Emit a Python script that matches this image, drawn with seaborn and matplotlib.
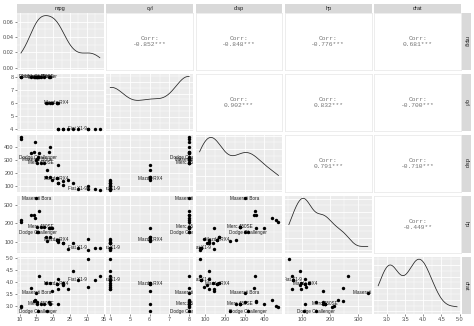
import numpy as np
import pandas as pd
import matplotlib
matplotlib.use("Agg")
import matplotlib.pyplot as plt
from matplotlib.ticker import FixedLocator, MaxNLocator
import seaborn as sns

# ---------------- data (mtcars) ----------------
cars = ["Mazda RX4", "Mazda RX4 Wag", "Datsun 710", "Hornet 4 Drive", "Hornet Sportabout",
        "Valiant", "Duster 360", "Merc 240D", "Merc 230", "Merc 280", "Merc 280C",
        "Merc 450SE", "Merc 450SL", "Merc 450SLC", "Cadillac Fleetwood",
        "Lincoln Continental", "Chrysler Imperial", "Fiat 128", "Honda Civic",
        "Toyota Corolla", "Toyota Corona", "Dodge Challenger", "AMC Javelin",
        "Camaro Z28", "Pontiac Firebird", "Fiat X1-9", "Porsche 914-2", "Lotus Europa",
        "Ford Pantera L", "Ferrari Dino", "Maserati Bora", "Volvo 142E"]
mpg = [21.0, 21.0, 22.8, 21.4, 18.7, 18.1, 14.3, 24.4, 22.8, 19.2, 17.8, 16.4, 17.3, 15.2,
       10.4, 10.4, 14.7, 32.4, 30.4, 33.9, 21.5, 15.5, 15.2, 13.3, 19.2, 27.3, 26.0, 30.4,
       15.8, 19.7, 15.0, 21.4]
cyl = [6, 6, 4, 6, 8, 6, 8, 4, 4, 6, 6, 8, 8, 8, 8, 8, 8, 4, 4, 4, 4, 8, 8, 8, 8, 4, 4, 4,
       8, 6, 8, 4]
disp = [160, 160, 108, 258, 360, 225, 360, 146.7, 140.8, 167.6, 167.6, 275.8, 275.8, 275.8,
        472, 460, 440, 78.7, 75.7, 71.1, 120.1, 318, 304, 350, 400, 79, 120.3, 95.1, 351,
        145, 301, 121]
hp = [110, 110, 93, 110, 175, 105, 245, 62, 95, 123, 123, 180, 180, 180, 205, 215, 230, 66,
      52, 65, 97, 150, 150, 245, 175, 66, 91, 113, 264, 175, 335, 109]
drat = [3.90, 3.90, 3.85, 3.08, 3.15, 2.76, 3.21, 3.69, 3.92, 3.92, 3.92, 3.07, 3.07, 3.07,
        2.93, 3.00, 3.23, 4.08, 4.93, 4.22, 3.70, 2.76, 3.15, 3.73, 3.08, 4.08, 4.43, 3.77,
        4.22, 3.62, 3.54, 4.11]
labelled = ["Mazda RX4", "Fiat X1-9", "Dodge Challenger", "Maserati Bora", "Merc 450SE"]

variables = ["mpg", "cyl", "disp", "hp", "drat"]
ticks = {
    "mpg": [10, 15, 20, 25, 30, 35],
    "cyl": [4, 5, 6, 7, 8],
    "disp": [100, 200, 300, 400],
    "hp": [100, 200, 300],
    "drat": [3.0, 3.5, 4.0, 4.5, 5.0],
}
tick_fmt = {"mpg": "{:g}", "cyl": "{:g}", "disp": "{:g}", "hp": "{:g}", "drat": "{:.1f}"}

df = pd.DataFrame({"car": cars, "mpg": mpg, "cyl": cyl, "disp": disp, "hp": hp, "drat": drat})
n = len(df)

# ---------------- layout ----------------
W, H = 474, 326
fig = plt.figure(figsize=(W / 100, H / 100), dpi=100)
fig.patch.set_facecolor("white")

left, right, top, bottom = 17, 461, 13, 314
gapx, gapy = 2.5, 3.5
k = len(variables)
pw = (right - left - gapx * (k - 1)) / k
ph = (bottom - top - gapy * (k - 1)) / k


def rect(x0, y0, x1, y1):
    return [x0 / W, 1 - y1 / H, (x1 - x0) / W, (y1 - y0) / H]


FONT = "Liberation Sans"
TICKC = "#4D4D4D"
BG = "#EBEBEB"


def limits(v):
    lo, hi = min(df[v]), max(df[v])
    e = (hi - lo) * 0.05
    return lo - e, hi + e


def minor_of(major, lo, hi):
    step = major[1] - major[0]
    cand = [major[0] - step / 2] + [m + step / 2 for m in major]
    return [c for c in cand if lo <= c <= hi]


def style_grid(ax, xt, yt, xlim, ylim):
    ax.set_facecolor(BG)
    ax.xaxis.set_major_locator(FixedLocator(xt))
    ax.yaxis.set_major_locator(FixedLocator(yt))
    ax.xaxis.set_minor_locator(FixedLocator(minor_of(xt, *xlim)))
    ax.yaxis.set_minor_locator(FixedLocator(minor_of(yt, *ylim)))
    ax.set_axisbelow(True)
    ax.grid(which="major", color="white", lw=0.6)
    ax.grid(which="minor", color="white", lw=0.3)
    ax.tick_params(which="minor", length=0)
    for s in ax.spines.values():
        s.set_visible(False)


def silverman_factor(x):
    x = np.asarray(x, float)
    sd = x.std(ddof=1)
    iqr = np.subtract(*np.percentile(x, [75, 25]))
    bw = 0.9 * min(sd, iqr / 1.34) * len(x) ** (-0.2)
    return bw / sd


axes = {}
for i, vy in enumerate(variables):
    for j, vx in enumerate(variables):
        x0 = left + j * (pw + gapx)
        y0 = top + i * (ph + gapy)
        ax = fig.add_axes(rect(x0, y0, x0 + pw, y0 + ph))
        axes[(i, j)] = ax
        xlim = limits(vx)
        if i < j:
            # upper: correlation text
            ax.set_facecolor("white")
            ax.set_xticks([]); ax.set_yticks([])
            for s in ax.spines.values():
                s.set_color("#E6E6E6"); s.set_linewidth(0.5)
            r = np.corrcoef(df[vx], df[vy])[0, 1]
            t = abs(r) * np.sqrt((n - 2) / (1 - r ** 2))
            stars = "***" if t > 3.646 else "**" if t > 2.750 else "*" if t > 2.042 else ""
            ax.text(0.5, 0.5, "Corr:\n{:.3f}{}".format(r, stars), ha="center", va="center",
                    transform=ax.transAxes, family="Liberation Mono", fontsize=4.5,
                    color="#737373", linespacing=1.3)
        elif i == j:
            sns.kdeplot(x=df[vx], ax=ax, bw_method=silverman_factor(df[vx]), cut=0,
                        color="#222222", lw=0.55)
            ymax = ax.lines[0].get_ydata().max()
            ylim = (-0.05 * ymax, 1.05 * ymax)
            if i == 0:
                yt = [0.0, 0.02, 0.04, 0.06]
            else:
                yt = list(MaxNLocator(5).tick_values(0, ymax))
            style_grid(ax, ticks[vx], yt, xlim, ylim)
            ax.set_xlim(*xlim); ax.set_ylim(*ylim)
        else:
            ylim = limits(vy)
            sub = df[df["car"].isin(labelled)]
            for _, row in sub.iterrows():
                ax.text(row[vx], row[vy], row["car"], ha="center", va="center",
                        family=FONT, fontsize=3.3, color="#1A1A1A", zorder=2, clip_on=True)
            sns.scatterplot(data=df, x=vx, y=vy, ax=ax, color="black", s=6,
                            linewidth=0, zorder=3)
            style_grid(ax, ticks[vx], ticks[vy], xlim, ylim)
            ax.set_xlim(*xlim); ax.set_ylim(*ylim)
        ax.set_xlabel(""); ax.set_ylabel("")

        # axis ticks / labels
        ax.tick_params(which="major", length=1.5, width=0.4, color="#333333",
                       labelsize=4, labelcolor=TICKC, pad=1)
        if j == 0 and i != j:
            ax.set_yticklabels([tick_fmt[vy].format(t) for t in ticks[vy]], family=FONT)
        elif i == 0 and j == 0:
            ax.set_yticklabels(["0.00", "0.02", "0.04", "0.06"], family=FONT)
        else:
            ax.tick_params(axis="y", which="both", left=False, labelleft=False)
        if i == k - 1:
            ax.set_xticklabels([tick_fmt[vx].format(t) for t in ticks[vx]], family=FONT)
        else:
            ax.tick_params(axis="x", which="both", bottom=False, labelbottom=False)
        if i < j:
            ax.tick_params(axis="both", which="both", left=False, bottom=False,
                           labelleft=False, labelbottom=False)

# strips
for j, v in enumerate(variables):
    x0 = left + j * (pw + gapx)
    sax = fig.add_axes(rect(x0, 4, x0 + pw, top))
    sax.set_facecolor("#D9D9D9")
    sax.set_xticks([]); sax.set_yticks([])
    for s in sax.spines.values():
        s.set_visible(False)
    sax.text(0.5, 0.5, v, ha="center", va="center", transform=sax.transAxes,
             family=FONT, fontsize=4, color="#1A1A1A")
for i, v in enumerate(variables):
    y0 = top + i * (ph + gapy)
    sax = fig.add_axes(rect(right + 0.5, y0, right + 9.5, y0 + ph))
    sax.set_facecolor("#D9D9D9")
    sax.set_xticks([]); sax.set_yticks([])
    for s in sax.spines.values():
        s.set_visible(False)
    sax.text(0.5, 0.5, v, ha="center", va="center", transform=sax.transAxes,
             family=FONT, fontsize=4, color="#1A1A1A", rotation=-90)

fig.savefig("out.png", dpi=100, facecolor="white")
